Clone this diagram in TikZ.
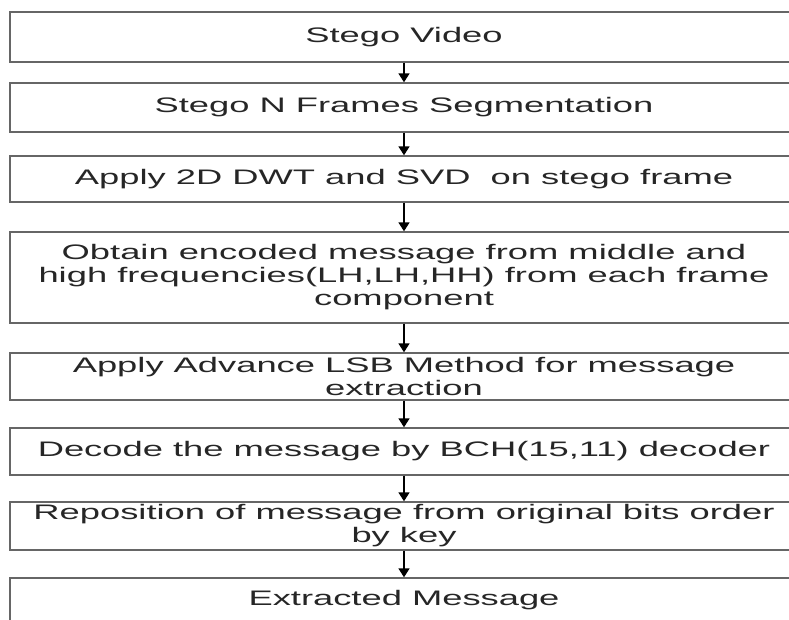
\documentclass[tikz,border=0pt]{standalone}
\usepackage{fontspec}
\setmainfont{Liberation Sans}[FakeStretch=1.73]
\usetikzlibrary{arrows.meta}

\begin{document}
\begin{tikzpicture}[x=1pt,y=-1pt]
	\tikzset{
	  stage/.style={draw=black!60,line width=1.4pt,minimum width=788pt,
		inner sep=0pt,align=center,text=black!85,
		font=\fontsize{21}{23}\selectfont},
	  flow/.style={black,line width=1.6pt,-{Triangle[width=11pt,length=9pt]}}
	}

	\useasboundingbox (0,0) rectangle (789,619);
	\clip (0,0) rectangle (789,619);

	%STAGES
	\node[stage,minimum height=50pt] (video) at (404,37) {Stego Video};
	\node[stage,minimum height=49pt] (frames) at (404,107.5) {Stego N Frames Segmentation};
	\node[stage,minimum height=46pt] (dwt) at (404,179) {Apply 2D DWT and SVD\ \ on stego frame};
	\node[stage,minimum height=91pt] (obtain) at (404,277.5) {Obtain encoded message from middle and\\
		high frequencies(LH,LH,HH) from each frame\\ component};
	\node[stage,minimum height=47pt] (lsb) at (404,376.5) {Apply Advance LSB Method for message\\ extraction};
	\node[stage,minimum height=47pt] (bch) at (404,451.5) {Decode the message by BCH(15,11) decoder};
	\node[stage,minimum height=48pt] (repos) at (404,526) {Reposition of message from original bits order\\ by key};
	\node[stage,minimum height=44pt] (extract) at (404,600) {Extracted Message};

	%ARROWS
	\foreach \from/\to in {video/frames,frames/dwt,dwt/obtain,obtain/lsb,lsb/bch,bch/repos,repos/extract}
	  \draw[flow] (\from) -- (\to);
\end{tikzpicture}
\end{document}
